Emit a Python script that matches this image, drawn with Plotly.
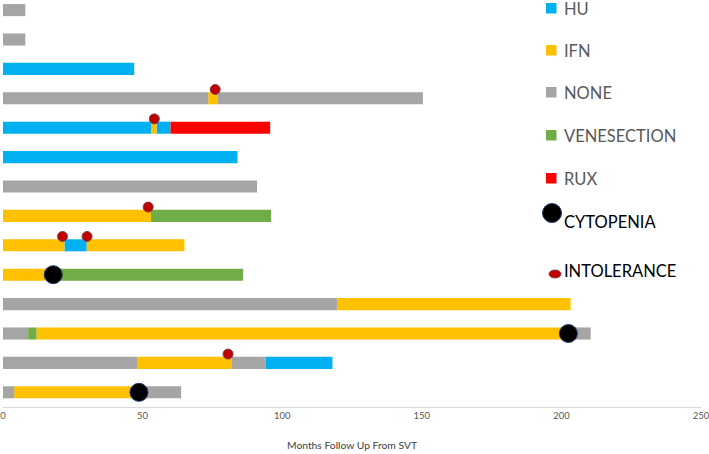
import plotly.graph_objects as go

# ---------------- data ----------------
patients = ["P1", "P2", "P3", "P4", "P5", "P6", "P7", "P8", "P9", "P10", "P11", "P12", "P13", "P14"]

seg_types = [
    ["NONE"],
    ["NONE"],
    ["HU"],
    ["NONE", "IFN", "NONE"],
    ["HU", "IFN", "HU", "RUX"],
    ["HU"],
    ["NONE"],
    ["IFN", "VENESECTION"],
    ["IFN", "HU", "IFN"],
    ["IFN", "VENESECTION"],
    ["NONE", "IFN"],
    ["NONE", "VENESECTION", "IFN", "NONE"],
    ["NONE", "IFN", "NONE", "HU"],
    ["NONE", "IFN", "NONE"],
]
seg_lengths = [
    [8],
    [8],
    [47],
    [73.5, 3.3, 73.6],
    [53, 2, 5, 35.7],
    [84],
    [91],
    [53, 43],
    [22, 8, 35],
    [18, 68],
    [119.6, 83.7],
    [9, 3, 191, 7.5],
    [48, 34, 12, 24],
    [4, 44.6, 15.2],
]

cyto_patient = ["P10", "P12", "P14"]
cyto_month = [18, 202.5, 48.7]

intol_patient = ["P4", "P5", "P8", "P9", "P9", "P13"]
intol_month = [76, 54.2, 52, 21.3, 30.1, 80.6]

treatments = ["HU", "IFN", "NONE", "VENESECTION", "RUX"]
colors = {"HU": "#00B0F0", "IFN": "#FFC000", "NONE": "#A5A5A5",
          "VENESECTION": "#70AD47", "RUX": "#FF0000"}

x_ticks = [0, 50, 100, 150, 200, 250]

# ---------------- figure ----------------
n = len(patients)
ypos = {p: n - 1 - i for i, p in enumerate(patients)}

fig = go.Figure()
for t in treatments:
    xs, bs, ys = [], [], []
    for p, types, lens in zip(patients, seg_types, seg_lengths):
        start = 0
        for ty, ln in zip(types, lens):
            if ty == t:
                xs.append(ln)
                bs.append(start)
                ys.append(ypos[p])
            start += ln
    fig.add_trace(go.Bar(x=xs, base=bs, y=ys, orientation="h", width=0.41,
                         marker=dict(color=colors[t], line=dict(width=0)),
                         name=t, showlegend=False, cliponaxis=False))

fig.add_trace(go.Scatter(x=cyto_month, y=[ypos[p] for p in cyto_patient], mode="markers",
                         marker=dict(size=18, color="#000000", line=dict(color="#1F3864", width=1)),
                         showlegend=False))
fig.add_trace(go.Scatter(x=intol_month, y=[ypos[p] + 0.3 for p in intol_patient], mode="markers",
                         marker=dict(size=10, color="#C00000", line=dict(color="#7F3F4F", width=1)),
                         showlegend=False))

# ---------------- manual legend ----------------
L, T, PW, PH = 3, 0, 698, 407
def px(x):
    return (x - L) / PW
def py(y):
    return (PH - y) / PH

leg_y = [9, 51, 93, 136, 179]
for t, yy in zip(treatments, leg_y):
    fig.add_shape(type="rect", xref="paper", yref="paper",
                  x0=px(546), x1=px(556.5), y0=py(yy - 6), y1=py(yy + 4.5),
                  fillcolor=colors[t], line=dict(width=0))
    fig.add_annotation(x=px(562), y=py(yy), xref="paper", yref="paper", text=t,
                       showarrow=False, xanchor="left", yanchor="middle",
                       font=dict(family="Lato", size=16.5, color="#595959"))

fig.add_shape(type="circle", xref="paper", yref="paper",
              x0=px(542.5), x1=px(561.5), y0=py(203.5), y1=py(222.5),
              fillcolor="#000000", line=dict(color="#1F3864", width=1))
fig.add_annotation(x=px(562), y=py(222), xref="paper", yref="paper", text="CYTOPENIA",
                   showarrow=False, xanchor="left", yanchor="middle",
                   font=dict(family="Lato", size=16.5, color="#000000"))
fig.add_shape(type="circle", xref="paper", yref="paper",
              x0=px(549), x1=px(561), y0=py(270), y1=py(278),
              fillcolor="#C00000", line=dict(color="#7F3F4F", width=1))
fig.add_annotation(x=px(562), y=py(271), xref="paper", yref="paper", text="INTOLERANCE",
                   showarrow=False, xanchor="left", yanchor="middle",
                   font=dict(family="Lato", size=16.5, color="#000000"))

fig.update_layout(
    width=709, height=454,
    margin=dict(l=3, r=8, t=0, b=47, autoexpand=False),
    plot_bgcolor="white", paper_bgcolor="white",
    barmode="overlay",
    showlegend=False,
    xaxis=dict(range=[0, 250], tickvals=x_ticks, showgrid=False, zeroline=False,
               showline=True, linecolor="#D9D9D9", linewidth=1, ticks="",
               automargin=False, ticklabeloverflow="allow",
               tickfont=dict(family="Lato", size=9.5, color="#595959"),
               title=dict(text="Months Follow Up From SVT", standoff=21,
                          font=dict(family="Lato", size=10.3, color="#404040"))),
    yaxis=dict(range=[-0.5, -0.5 + 407 / 29.4], showgrid=False, zeroline=False,
               showline=False, showticklabels=False, ticks="", fixedrange=True,
               automargin=False),
)

fig.write_html("out.html", config={"displayModeBar": False},
               post_script="document.body.style.margin='0';document.body.style.overflow='hidden';")
